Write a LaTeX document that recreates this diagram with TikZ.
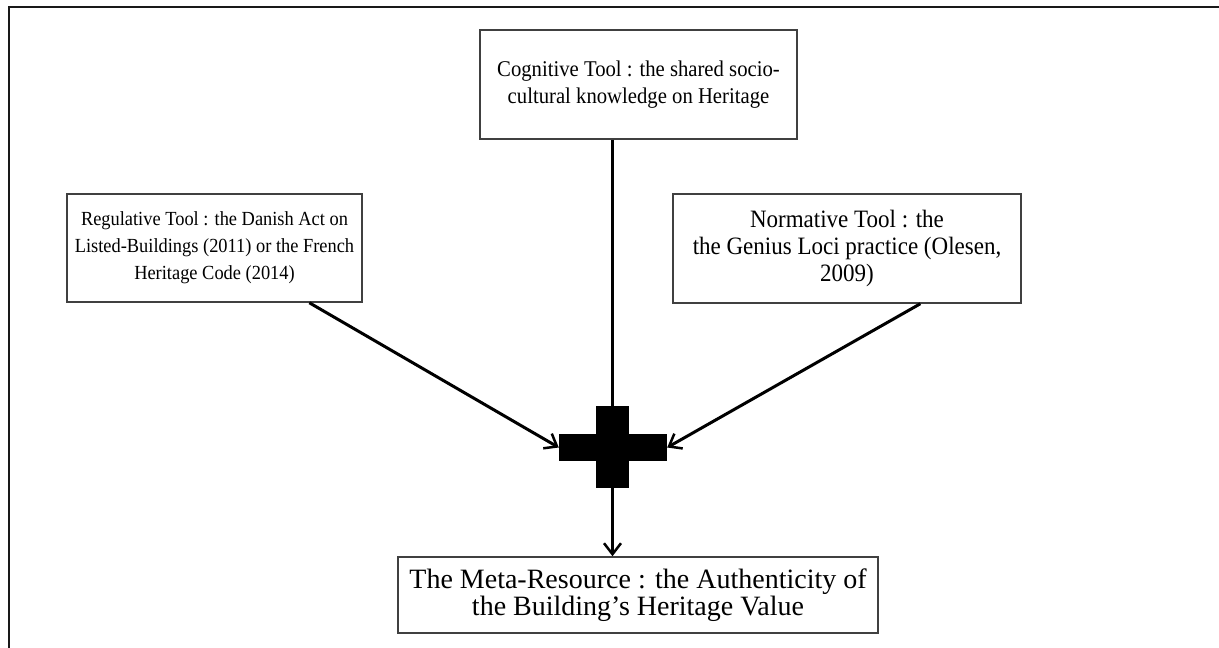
\documentclass[tikz,border=0pt]{standalone}
\usepackage{fontspec}
\setmainfont{Liberation Serif}
\newfontfamily\narrowserif[FakeStretch=0.92]{Liberation Serif}
\usetikzlibrary{arrows.meta}
\tikzset{
  %% Styles %%
  toolbox/.style = {draw=black!75, line width=1.5pt, fill=white, inner sep=0pt, align=center},
  plusbar/.style = {fill=black, draw=none, inner sep=0pt},
  link/.style = {line width=3pt, black},
  linkarrow/.style = {link, -{Straight Barb[length=11pt, width=17pt, line width=2.5pt]}},
  frameline/.style = {line width=2pt, black!90}
}

\begin{document}
\begin{tikzpicture}[x=1pt, y=-1pt]
  \useasboundingbox (0,0) rectangle (1219,648);
  \clip (0,0) rectangle (1219,648);
  % outer frame
  \draw[frameline] (1240,7) -- (9,7) -- (9,670);

  % tools
  \node[toolbox, minimum width=317pt, minimum height=109pt, font=\narrowserif\fontsize{22.5}{27}\selectfont]
    (cog) at (638.5,84.5) {Cognitive Tool : the shared socio-\\cultural knowledge on Heritage};
  \node[toolbox, minimum width=295pt, minimum height=108pt, font=\narrowserif\fontsize{20}{27}\selectfont]
    (reg) at (214.5,248) {Regulative Tool : the Danish Act on\\Listed-Buildings (2011) or the French\\Heritage Code (2014)};
  \node[toolbox, minimum width=348pt, minimum height=109pt, font=\narrowserif\fontsize{25}{27}\selectfont]
    (norm) at (847,248.5) {Normative Tool : the\\the Genius Loci practice (Olesen,\\2009)};
  \node[toolbox, minimum width=480pt, minimum height=76pt, font=\fontsize{28}{27}\selectfont]
    (meta) at (638,595) {The Meta-Resource : the Authenticity of\\the Building’s Heritage Value};

  % the plus sign
  \node[plusbar, minimum width=108pt, minimum height=27pt] (plus) at (613,447.5) {};
  \node[plusbar, minimum width=33pt, minimum height=82pt] (plusv) at (612.5,447) {};

  % connectors
  \draw[link] (cog.south -| plusv) -- (plusv.north);
  \draw[linkarrow] (plusv.south) -- (meta.north -| plusv);
  \draw[linkarrow] (reg.-30) -- (plus.west);
  \draw[linkarrow] (norm.-37.5) -- (plus.east);
\end{tikzpicture}
\end{document}
